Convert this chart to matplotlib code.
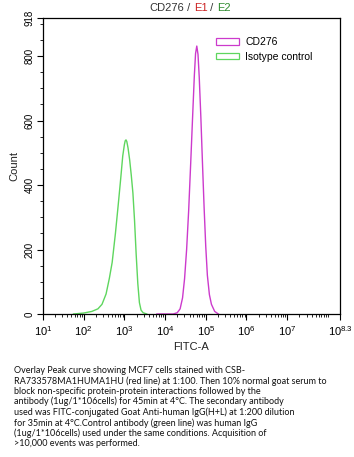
import matplotlib
matplotlib.use("Agg")
import matplotlib.pyplot as plt
from matplotlib.patches import Patch
from matplotlib.ticker import FixedLocator, NullFormatter
import numpy as np

# ---- data (log10 FITC-A, count) ----
iso_log = [1.75, 2.0, 2.2, 2.35, 2.45, 2.55, 2.63, 2.7, 2.78, 2.85, 2.91, 2.96,
           3.0, 3.02, 3.04, 3.06, 3.09, 3.13, 3.17, 3.21, 3.25, 3.29,
           3.33, 3.37, 3.41, 3.46, 3.55]
iso_cnt = [0, 3, 8, 16, 30, 62, 110, 160, 250, 340, 420, 490,
           525, 537, 540, 535, 515, 478, 430, 375, 290, 185,
           95, 35, 12, 4, 0]

cd_log = [3.8, 4.2, 4.3, 4.37, 4.43, 4.48, 4.53, 4.58, 4.63, 4.68, 4.72, 4.75,
          4.78, 4.81, 4.84, 4.88, 4.92, 4.96, 5.0, 5.04, 5.09, 5.14, 5.22, 5.31]
cd_cnt = [0, 0, 4, 16, 50, 110, 200, 320, 467, 620, 740, 808,
          831, 805, 735, 610, 467, 330, 210, 120, 60, 30, 8, 0]

series_names = ["CD276", "Isotype control"]
x_tick_exps = [1, 2, 3, 4, 5, 6, 7, 8.3]
x_tick_labels = ["$10^{1}$", "$10^{2}$", "$10^{3}$", "$10^{4}$", "$10^{5}$",
                 "$10^{6}$", "$10^{7}$", "$10^{8.3}$"]
y_ticks = [0, 200, 400, 600, 800, 918]

caption = ("Overlay Peak curve showing MCF7 cells stained with CSB-\n"
           "RA733578MA1HUMA1HU (red line) at 1:100. Then 10% normal goat serum to\n"
           "block non-specific protein-protein interactions followed by the\n"
           "antibody (1ug/1*106cells) for 45min at 4\u00b0C. The secondary antibody\n"
           "used was FITC-conjugated Goat Anti-human IgG(H+L) at 1:200 dilution\n"
           "for 35min at 4\u00b0C.Control antibody (green line) was human IgG\n"
           "(1ug/1*106cells) used under the same conditions. Acquisition of\n"
           ">10,000 events was performed.")

MAG = "#CC3ACC"
GRN = "#5ED65E"

plt.rcParams['font.family'] = ['Liberation Sans', 'DejaVu Sans']
plt.rcParams['mathtext.fontset'] = 'custom'
plt.rcParams['mathtext.rm'] = 'Liberation Sans'
plt.rcParams['mathtext.it'] = 'Liberation Sans'
plt.rcParams['mathtext.default'] = 'regular'

fig = plt.figure(figsize=(3.54, 4.57), dpi=100)
W, H = 354, 457
ax = fig.add_axes([43 / W, 1 - 314 / H, (340 - 43) / W, (314 - 18) / H])

ax.plot(10 ** np.array(cd_log), cd_cnt, color=MAG, lw=1.0)
ax.plot(10 ** np.array(iso_log), iso_cnt, color=GRN, lw=1.0)

ax.set_xscale('log')
ax.set_xlim(10 ** 1, 10 ** 8.3)
ax.set_ylim(0, 918)

ax.xaxis.set_major_locator(FixedLocator([10 ** e for e in x_tick_exps]))
ax.set_xticklabels(x_tick_labels)
minor = [k * 10 ** n for n in range(1, 9) for k in range(1, 10)
         if k * 10 ** n < 10 ** 8.3 and not (k == 1 and n < 8)]
ax.xaxis.set_minor_locator(FixedLocator(minor))
ax.xaxis.set_minor_formatter(NullFormatter())

ax.set_yticks(y_ticks)
ax.set_yticklabels([str(v) for v in y_ticks], rotation=90, va='center')
ax.yaxis.set_minor_locator(FixedLocator([v for v in range(50, 918, 50) if v % 200 != 0]))

ax.tick_params(axis='both', which='major', direction='out', length=4, width=0.8, labelsize=8)
ax.tick_params(axis='y', which='major', labelsize=7, pad=2)
ax.tick_params(axis='both', which='minor', direction='out', length=2, width=0.6)
for s in ax.spines.values():
    s.set_linewidth(0.9)

ax.set_xlabel("FITC-A", fontsize=8, color="#222222", labelpad=3)
ax.set_ylabel("Count", fontsize=8, color="#222222", labelpad=4)

handles = [Patch(facecolor='white', edgecolor=MAG, lw=0.9),
           Patch(facecolor='white', edgecolor=GRN, lw=0.9)]
ax.legend(handles, series_names, loc='upper left', bbox_to_anchor=((212 - 43) / 297, 1 - (33 - 18) / 296),
          frameon=False, fontsize=7.5, handlelength=2.2, handleheight=0.6,
          labelspacing=0.45, handletextpad=0.6, borderaxespad=0)

# Multicolour title
fig.canvas.draw()
renderer = fig.canvas.get_renderer()
parts = [("CD276", "#333333"), (" / ", "#333333"), ("E1", "#CC2222"), (" / ", "#333333"), ("E2", "#2E8B2E")]
texts = []
for s, c in parts:
    texts.append(fig.text(0, 1 - 8 / H, s, color=c, fontsize=8, va='center', ha='left'))
widths = [t.get_window_extent(renderer).width for t in texts]
total = sum(widths)
x = (190 - total / 2)
for t, w in zip(texts, widths):
    t.set_x(x / W)
    x += w

fig.text(14 / W, 1 - 366 / H, caption, fontsize=6.5, va='top', ha='left',
         family=['Lato', 'DejaVu Sans'], linespacing=1.15, color="#111111")

fig.savefig("out.png", dpi=100)
